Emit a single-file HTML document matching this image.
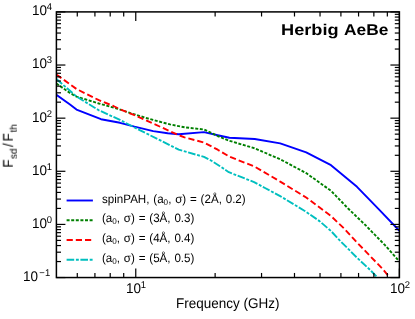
<!DOCTYPE html>
<html><head><meta charset="utf-8"><title>Herbig AeBe</title>
<style>
html,body{margin:0;padding:0;background:#fff;}
body{text-rendering:geometricPrecision;width:415px;height:319px;position:relative;overflow:hidden;font-family:"Liberation Sans",sans-serif;color:#000;}
.t{position:absolute;white-space:nowrap;line-height:1;will-change:transform;}
.tk,.ax,.lg{transform:scaleY(1.04);transform-origin:center;}
.tk{font-size:13.5px;}
.tk sup,.tk .s{font-size:9.45px;position:relative;top:-5.5px;margin-left:-0.3px;vertical-align:baseline;}
.lg{font-size:11.6px;word-spacing:0.6px;}
.lg sub,.lg .b{font-size:8.1px;position:relative;top:2px;vertical-align:baseline;}
.ax{font-size:13.5px;}
.ttl{text-rendering:geometricPrecision;font-size:15.7px;font-weight:bold;transform-origin:left top;}
</style></head><body>

<svg width="415" height="319" viewBox="0 0 415 319" style="position:absolute;left:0;top:0">
<defs><clipPath id="c"><rect x="56.4" y="11.9" width="343.0" height="265.65000000000003"/></clipPath></defs>
<g clip-path="url(#c)" fill="none" stroke-width="1.9" stroke-linejoin="round">
<polyline points="56.4,94.9 70.0,104.5 76.5,109.6 101.0,119.2 120.0,122.8 134.5,126.7 153.2,131.1 167.7,133.2 178.7,134.2 204.0,132.1 217.7,135.2 229.4,137.7 254.7,139.0 280.2,143.4 306.2,152.3 331.0,165.2 357.0,186.8 378.9,209.3 399.4,230.8" stroke="#0000ff"/>
<polyline points="56.4,83.5 70.0,93.0 76.5,96.6 98.9,103.5 117.7,108.8 130.0,113.0 148.9,118.8 170.0,124.4 184.5,127.3 204.0,129.5 217.7,136.0 229.4,140.8 254.7,148.3 280.2,159.3 306.2,173.1 331.0,190.8 348.4,208.8 365.0,224.7 385.0,245.2 399.4,261.4" stroke="#008000" stroke-dasharray="3.0,1.6"/>
<polyline points="56.4,74.5 76.5,89.0 98.9,100.2 113.4,106.0 120.0,109.2 134.5,115.2 148.9,121.7 163.4,128.2 176.4,134.2 184.5,137.4 204.0,142.5 217.7,149.7 229.5,156.7 254.8,166.7 280.2,181.6 306.2,197.5 331.0,216.1 344.0,228.4 356.8,242.3 382.8,269.1 390.5,278.5" stroke="#ff0000" stroke-dasharray="6.2,3"/>
<polyline points="56.4,79.0 70.0,90.8 76.5,96.6 98.9,110.3 120.0,119.9 134.5,127.5 148.9,134.7 170.6,145.5 178.7,149.7 204.0,156.9 211.9,161.0 220.0,166.2 228.8,172.2 254.1,182.1 265.0,188.0 280.2,196.1 304.8,211.0 319.5,221.1 331.0,231.0 339.5,240.2 356.8,257.5 371.2,271.0 378.5,278.5" stroke="#00bfbf" stroke-dasharray="7.6,1.7,2.9,1.6"/>
</g>
<g stroke="#000" stroke-width="1.2">
<line x1="135.76" y1="277.55" x2="135.76" y2="268.55"/>
<line x1="135.76" y1="11.90" x2="135.76" y2="20.90"/>
<line x1="399.40" y1="277.55" x2="399.40" y2="268.55"/>
<line x1="399.40" y1="11.90" x2="399.40" y2="20.90"/>
<line x1="77.28" y1="277.55" x2="77.28" y2="272.95"/>
<line x1="77.28" y1="11.90" x2="77.28" y2="16.50"/>
<line x1="94.92" y1="277.55" x2="94.92" y2="272.95"/>
<line x1="94.92" y1="11.90" x2="94.92" y2="16.50"/>
<line x1="110.21" y1="277.55" x2="110.21" y2="272.95"/>
<line x1="110.21" y1="11.90" x2="110.21" y2="16.50"/>
<line x1="123.70" y1="277.55" x2="123.70" y2="272.95"/>
<line x1="123.70" y1="11.90" x2="123.70" y2="16.50"/>
<line x1="215.13" y1="277.55" x2="215.13" y2="272.95"/>
<line x1="215.13" y1="11.90" x2="215.13" y2="16.50"/>
<line x1="261.55" y1="277.55" x2="261.55" y2="272.95"/>
<line x1="261.55" y1="11.90" x2="261.55" y2="16.50"/>
<line x1="294.49" y1="277.55" x2="294.49" y2="272.95"/>
<line x1="294.49" y1="11.90" x2="294.49" y2="16.50"/>
<line x1="320.04" y1="277.55" x2="320.04" y2="272.95"/>
<line x1="320.04" y1="11.90" x2="320.04" y2="16.50"/>
<line x1="340.91" y1="277.55" x2="340.91" y2="272.95"/>
<line x1="340.91" y1="11.90" x2="340.91" y2="16.50"/>
<line x1="358.56" y1="277.55" x2="358.56" y2="272.95"/>
<line x1="358.56" y1="11.90" x2="358.56" y2="16.50"/>
<line x1="373.85" y1="277.55" x2="373.85" y2="272.95"/>
<line x1="373.85" y1="11.90" x2="373.85" y2="16.50"/>
<line x1="387.34" y1="277.55" x2="387.34" y2="272.95"/>
<line x1="387.34" y1="11.90" x2="387.34" y2="16.50"/>
<line x1="56.40" y1="277.55" x2="65.40" y2="277.55"/>
<line x1="399.40" y1="277.55" x2="390.40" y2="277.55"/>
<line x1="56.40" y1="261.56" x2="61.00" y2="261.56"/>
<line x1="399.40" y1="261.56" x2="394.80" y2="261.56"/>
<line x1="56.40" y1="252.20" x2="61.00" y2="252.20"/>
<line x1="399.40" y1="252.20" x2="394.80" y2="252.20"/>
<line x1="56.40" y1="245.56" x2="61.00" y2="245.56"/>
<line x1="399.40" y1="245.56" x2="394.80" y2="245.56"/>
<line x1="56.40" y1="240.41" x2="61.00" y2="240.41"/>
<line x1="399.40" y1="240.41" x2="394.80" y2="240.41"/>
<line x1="56.40" y1="236.21" x2="61.00" y2="236.21"/>
<line x1="399.40" y1="236.21" x2="394.80" y2="236.21"/>
<line x1="56.40" y1="232.65" x2="61.00" y2="232.65"/>
<line x1="399.40" y1="232.65" x2="394.80" y2="232.65"/>
<line x1="56.40" y1="229.57" x2="61.00" y2="229.57"/>
<line x1="399.40" y1="229.57" x2="394.80" y2="229.57"/>
<line x1="56.40" y1="226.85" x2="61.00" y2="226.85"/>
<line x1="399.40" y1="226.85" x2="394.80" y2="226.85"/>
<line x1="56.40" y1="224.42" x2="65.40" y2="224.42"/>
<line x1="399.40" y1="224.42" x2="390.40" y2="224.42"/>
<line x1="56.40" y1="208.43" x2="61.00" y2="208.43"/>
<line x1="399.40" y1="208.43" x2="394.80" y2="208.43"/>
<line x1="56.40" y1="199.07" x2="61.00" y2="199.07"/>
<line x1="399.40" y1="199.07" x2="394.80" y2="199.07"/>
<line x1="56.40" y1="192.43" x2="61.00" y2="192.43"/>
<line x1="399.40" y1="192.43" x2="394.80" y2="192.43"/>
<line x1="56.40" y1="187.28" x2="61.00" y2="187.28"/>
<line x1="399.40" y1="187.28" x2="394.80" y2="187.28"/>
<line x1="56.40" y1="183.08" x2="61.00" y2="183.08"/>
<line x1="399.40" y1="183.08" x2="394.80" y2="183.08"/>
<line x1="56.40" y1="179.52" x2="61.00" y2="179.52"/>
<line x1="399.40" y1="179.52" x2="394.80" y2="179.52"/>
<line x1="56.40" y1="176.44" x2="61.00" y2="176.44"/>
<line x1="399.40" y1="176.44" x2="394.80" y2="176.44"/>
<line x1="56.40" y1="173.72" x2="61.00" y2="173.72"/>
<line x1="399.40" y1="173.72" x2="394.80" y2="173.72"/>
<line x1="56.40" y1="171.29" x2="65.40" y2="171.29"/>
<line x1="399.40" y1="171.29" x2="390.40" y2="171.29"/>
<line x1="56.40" y1="155.30" x2="61.00" y2="155.30"/>
<line x1="399.40" y1="155.30" x2="394.80" y2="155.30"/>
<line x1="56.40" y1="145.94" x2="61.00" y2="145.94"/>
<line x1="399.40" y1="145.94" x2="394.80" y2="145.94"/>
<line x1="56.40" y1="139.30" x2="61.00" y2="139.30"/>
<line x1="399.40" y1="139.30" x2="394.80" y2="139.30"/>
<line x1="56.40" y1="134.15" x2="61.00" y2="134.15"/>
<line x1="399.40" y1="134.15" x2="394.80" y2="134.15"/>
<line x1="56.40" y1="129.95" x2="61.00" y2="129.95"/>
<line x1="399.40" y1="129.95" x2="394.80" y2="129.95"/>
<line x1="56.40" y1="126.39" x2="61.00" y2="126.39"/>
<line x1="399.40" y1="126.39" x2="394.80" y2="126.39"/>
<line x1="56.40" y1="123.31" x2="61.00" y2="123.31"/>
<line x1="399.40" y1="123.31" x2="394.80" y2="123.31"/>
<line x1="56.40" y1="120.59" x2="61.00" y2="120.59"/>
<line x1="399.40" y1="120.59" x2="394.80" y2="120.59"/>
<line x1="56.40" y1="118.16" x2="65.40" y2="118.16"/>
<line x1="399.40" y1="118.16" x2="390.40" y2="118.16"/>
<line x1="56.40" y1="102.17" x2="61.00" y2="102.17"/>
<line x1="399.40" y1="102.17" x2="394.80" y2="102.17"/>
<line x1="56.40" y1="92.81" x2="61.00" y2="92.81"/>
<line x1="399.40" y1="92.81" x2="394.80" y2="92.81"/>
<line x1="56.40" y1="86.17" x2="61.00" y2="86.17"/>
<line x1="399.40" y1="86.17" x2="394.80" y2="86.17"/>
<line x1="56.40" y1="81.02" x2="61.00" y2="81.02"/>
<line x1="399.40" y1="81.02" x2="394.80" y2="81.02"/>
<line x1="56.40" y1="76.82" x2="61.00" y2="76.82"/>
<line x1="399.40" y1="76.82" x2="394.80" y2="76.82"/>
<line x1="56.40" y1="73.26" x2="61.00" y2="73.26"/>
<line x1="399.40" y1="73.26" x2="394.80" y2="73.26"/>
<line x1="56.40" y1="70.18" x2="61.00" y2="70.18"/>
<line x1="399.40" y1="70.18" x2="394.80" y2="70.18"/>
<line x1="56.40" y1="67.46" x2="61.00" y2="67.46"/>
<line x1="399.40" y1="67.46" x2="394.80" y2="67.46"/>
<line x1="56.40" y1="65.03" x2="65.40" y2="65.03"/>
<line x1="399.40" y1="65.03" x2="390.40" y2="65.03"/>
<line x1="56.40" y1="49.04" x2="61.00" y2="49.04"/>
<line x1="399.40" y1="49.04" x2="394.80" y2="49.04"/>
<line x1="56.40" y1="39.68" x2="61.00" y2="39.68"/>
<line x1="399.40" y1="39.68" x2="394.80" y2="39.68"/>
<line x1="56.40" y1="33.04" x2="61.00" y2="33.04"/>
<line x1="399.40" y1="33.04" x2="394.80" y2="33.04"/>
<line x1="56.40" y1="27.89" x2="61.00" y2="27.89"/>
<line x1="399.40" y1="27.89" x2="394.80" y2="27.89"/>
<line x1="56.40" y1="23.69" x2="61.00" y2="23.69"/>
<line x1="399.40" y1="23.69" x2="394.80" y2="23.69"/>
<line x1="56.40" y1="20.13" x2="61.00" y2="20.13"/>
<line x1="399.40" y1="20.13" x2="394.80" y2="20.13"/>
<line x1="56.40" y1="17.05" x2="61.00" y2="17.05"/>
<line x1="399.40" y1="17.05" x2="394.80" y2="17.05"/>
<line x1="56.40" y1="14.33" x2="61.00" y2="14.33"/>
<line x1="399.40" y1="14.33" x2="394.80" y2="14.33"/>
<line x1="56.40" y1="11.90" x2="65.40" y2="11.90"/>
<line x1="399.40" y1="11.90" x2="390.40" y2="11.90"/>
</g>
<rect x="56.4" y="11.9" width="343.0" height="265.65000000000003" fill="none" stroke="#000" stroke-width="1.5"/>
<g fill="none" stroke-width="1.9">
<line x1="66.6" y1="200.5" x2="92.9" y2="200.5" stroke="#0000ff"/>
<line x1="66.6" y1="220.3" x2="92.9" y2="220.3" stroke="#008000" stroke-dasharray="3.0,1.6"/>
<line x1="66.6" y1="240.05" x2="92.9" y2="240.05" stroke="#ff0000" stroke-dasharray="6.2,3"/>
<line x1="66.6" y1="259.8" x2="92.9" y2="259.8" stroke="#00bfbf" stroke-dasharray="7.6,1.7,2.9,1.6"/>
</g>
</svg>
<div class="t tk" id="y-1" style="right:364.5px;top:269.9px">10<span class="s" style="margin-left:1.1px">−</span><span class="s" style="margin-left:0.4px">1</span></div>
<div class="t tk" id="y0" style="right:363.1px;top:216.8px">10<span class="s">0</span></div>
<div class="t tk" id="y1" style="right:363.1px;top:163.7px">10<span class="s">1</span></div>
<div class="t tk" id="y2" style="right:363.1px;top:110.6px">10<span class="s">2</span></div>
<div class="t tk" id="y3" style="right:363.1px;top:57.4px">10<span class="s">3</span></div>
<div class="t tk" id="y4" style="right:363.1px;top:4.3px">10<span class="s">4</span></div>
<div class="t tk" id="x1" style="left:126.2px;top:281.6px">10<span class="s">1</span></div>
<div class="t tk" id="x2" style="left:389.8px;top:281.6px">10<span class="s">2</span></div>
<div class="t ax" id="xl" style="left:176px;top:297.4px">Frequency (GHz)</div>
<div class="t ax" id="yl" style="left:9.2px;top:145.8px;transform:translate(-50%,-50%) rotate(-90deg) scaleY(1.04);transform-origin:center">F<span style="font-size:9.8px;position:relative;top:2.6px;margin-left:0.6px">sd</span><span style="margin:0 1.9px 0 1.5px">/</span>F<span style="font-size:9.8px;position:relative;top:2.6px;margin-left:0.6px">th</span></div>
<div class="t ttl" id="ttl" style="left:281.0px;top:23.0px;transform:scaleX(1.16)">Herbig</div>
<div class="t ttl" id="ttl2" style="left:344.0px;top:23.0px;transform:scaleX(1.105)">AeBe</div>
<div class="t lg" id="l0" style="left:102px;top:193.5px">spinPAH, (a<span class="b">0</span>, σ) = (2Å, 0.2)</div>
<div class="t lg" id="l1" style="left:102px;top:213.3px">(a<span class="b">0</span>, σ) = (3Å, 0.3)</div>
<div class="t lg" id="l2" style="left:102px;top:233.1px">(a<span class="b">0</span>, σ) = (4Å, 0.4)</div>
<div class="t lg" id="l3" style="left:102px;top:252.8px">(a<span class="b">0</span>, σ) = (5Å, 0.5)</div>
</body></html>
